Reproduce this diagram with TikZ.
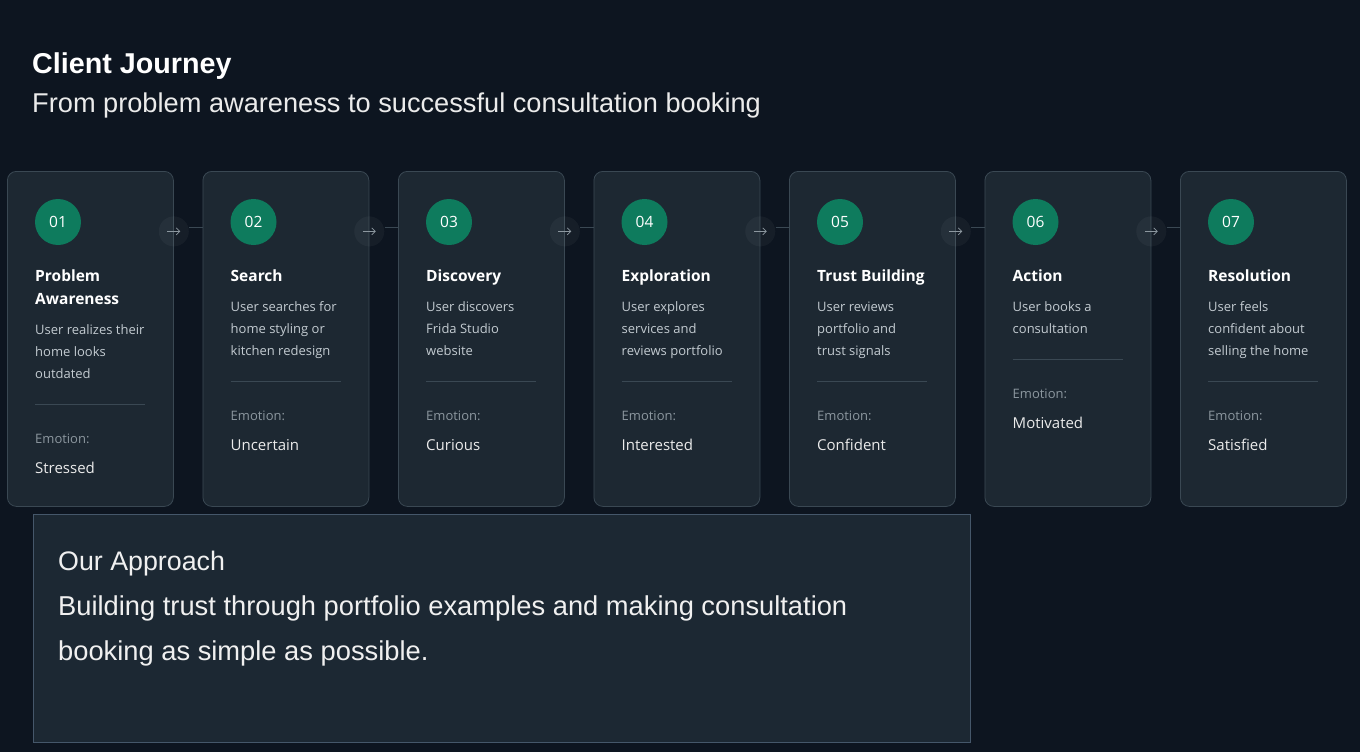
\documentclass[tikz,border=0pt]{standalone}
\usepackage{fontspec}
\setmainfont{Liberation Sans}
\newfontfamily\cardfont{Open Sans}
\usetikzlibrary{positioning,arrows.meta}

\definecolor{pagebg}{HTML}{0D1520}
\definecolor{cardbg}{HTML}{1D2832}
\definecolor{cardline}{HTML}{3A4853}
\definecolor{badgegreen}{HTML}{0E7B5D}
\definecolor{desctext}{HTML}{C3CBD1}
\definecolor{mutedtext}{HTML}{8C979F}
\definecolor{boxbg}{HTML}{1C2833}
\definecolor{boxline}{HTML}{45576A}

\tikzset{
  card/.style={draw=cardline, fill=cardbg, rounded corners=9pt, line width=0.8pt,
    minimum width=166pt, minimum height=335pt, inner sep=0pt},
  badge/.style={circle, fill=badgegreen, minimum size=46pt, inner sep=0pt,
    text=white, font=\cardfont\fontsize{15.5}{18}\selectfont},
  steptitle/.style={anchor=north west, inner sep=0pt, align=left, text=white,
    font=\cardfont\bfseries\fontsize{15.5}{23}\selectfont},
  stepdesc/.style={inner sep=0pt, align=left, text=desctext,
    font=\cardfont\fontsize{13}{22}\selectfont},
  emolabel/.style={anchor=base west, inner sep=0pt, text=mutedtext,
    font=\cardfont\fontsize{13}{16}\selectfont},
  emovalue/.style={anchor=base west, inner sep=0pt, text=white!92!black,
    font=\cardfont\fontsize{15}{18}\selectfont},
  divider/.style={draw=cardline, line width=0.8pt},
  hub/.style={circle, fill=white, fill opacity=0.04, minimum size=30pt, inner sep=0pt},
  link/.style={draw=cardline, line width=0.8pt},
  arrowglyph/.style={draw=mutedtext, line width=0.8pt, -{Straight Barb[length=3.5pt,width=7pt]}},
}

\begin{document}
\begin{tikzpicture}[x=1pt, y=-1pt]
  % page
  \fill[pagebg] (0,0) rectangle (1360,752);
  \useasboundingbox (0,0) rectangle (1360,752);

  % heading
  \node[anchor=base west, inner sep=0pt, text=white, font=\bfseries\fontsize{28.7}{32}\selectfont]
    (heading) at (32,74) {Client Journey};
  \node[anchor=base west, inner sep=0pt, text=white!92!black, font=\fontsize{27.2}{32}\selectfont]
    (subheading) at (32,112) {From problem awareness to successful consultation booking};

  % journey steps
  \foreach \i/\ttl/\dsc/\emo in {
      1/{Problem\\Awareness}/{User realizes their\\home looks\\outdated}/Stressed,
      2/Search/{User searches for\\home styling or\\kitchen redesign}/Uncertain,
      3/Discovery/{User discovers\\Frida Studio\\website}/Curious,
      4/Exploration/{User explores\\services and\\reviews portfolio}/Interested,
      5/Trust Building/{User reviews\\portfolio and\\trust signals}/Confident,
      6/Action/{User books a\\consultation}/Motivated,
      7/Resolution/{User feels\\confident about\\selling the home}/Satisfied} {
    \pgfmathsetmacro\cx{7+195.5*(\i-1)}
    \node[card, anchor=north west] (card\i) at (\cx,171) {};
    \node[badge] (badge\i) at (\cx+51,222) {0\i};
    \node[steptitle] (title\i) at (\cx+28,265) {\strut\ttl\strut};
    \node[stepdesc, below=7.5pt of title\i.south west, anchor=north west] (desc\i) {\strut\dsc\strut};
    \coordinate (div\i) at ([yshift=-19.5pt]desc\i.south west);
    \draw[divider] (div\i) -- ++(110,0);
    \node[emolabel] (emo\i) at ([yshift=-39pt]div\i) {Emotion:};
    \node[emovalue] (feel\i) at ([yshift=-30pt]emo\i.base west) {\emo};
  }

  % connectors between steps
  \foreach \i [evaluate=\i as \j using int(\i+1)] in {1,...,6} {
    \node[hub] (hub\i) at ([yshift=107.5pt]card\i.east) {};
    \draw[arrowglyph] ([xshift=-6.5pt]hub\i.center) -- ([xshift=6.5pt]hub\i.center);
    \draw[link] ([yshift=4pt]hub\i.east) -- ([yshift=4pt]hub\i.east -| card\j.west);
  }

  % approach box
  \node[draw=boxline, fill=boxbg, line width=0.9pt, anchor=north west, minimum width=937pt,
    minimum height=228pt, inner sep=0pt] (approach) at (33,514) {};
  \node[anchor=base west, inner sep=0pt, text=white!94!black, font=\fontsize{26.8}{30}\selectfont]
    (approachhead) at (58,570) {Our Approach};
  \node[below=13.5pt of approachhead.base west, anchor=north west, inner sep=0pt, align=left,
    text=white!94!black, font=\fontsize{27.3}{45}\selectfont] (approachtext)
    {\strut Building trust through portfolio examples and making consultation\\booking as simple as possible.\strut};
\end{tikzpicture}
\end{document}
